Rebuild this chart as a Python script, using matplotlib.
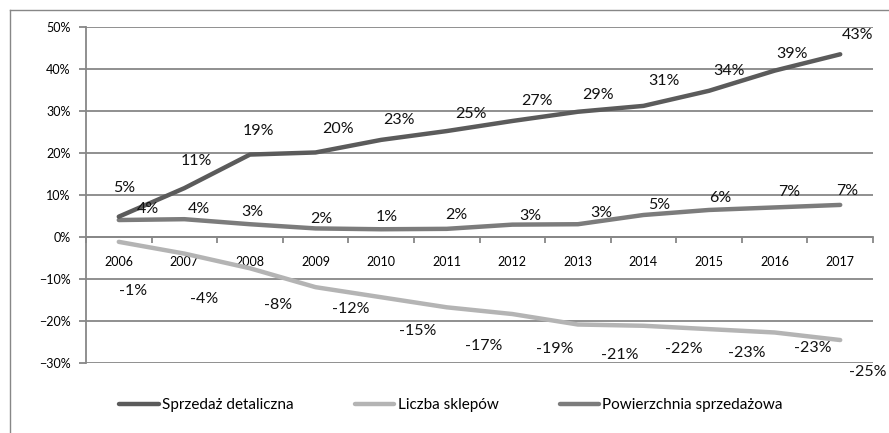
import numpy as np
import matplotlib
matplotlib.use("Agg")
import matplotlib.pyplot as plt
from matplotlib.lines import Line2D
from matplotlib.ticker import FixedLocator, PercentFormatter

plt.rcParams['font.family'] = ['Lato', 'DejaVu Sans']

years = ['2006', '2007', '2008', '2009', '2010', '2011',
         '2012', '2013', '2014', '2015', '2016', '2017']

# values (%)
sales = [4.8, 11.6, 19.6, 20.1, 23.1, 25.2, 27.6, 29.8, 31.2, 34.8, 39.6, 43.5]
shops = [-1.2, -4.0, -7.5, -12.0, -14.4, -16.8, -18.4, -20.9, -21.2, -22.0, -22.8, -24.6]
area = [4.0, 4.2, 3.0, 2.0, 1.8, 1.9, 2.9, 3.0, 5.2, 6.4, 7.0, 7.6]

# data labels as printed on the chart
sales_labels = [5, 11, 19, 20, 23, 25, 27, 29, 31, 34, 39, 43]
shops_labels = [-1, -4, -8, -12, -15, -17, -19, -21, -22, -23, -23, -25]
area_labels = [4, 4, 3, 2, 1, 2, 3, 3, 5, 6, 7, 7]

# label offsets from the point, in pixels (x right, y down)
sales_off = [(5, -29), (12, -27), (8, -24), (22, -23), (18, -20), (24, -17),
             (25, -20), (20, -17), (20, -25), (20, -20), (17, -17), (17, -19)]
shops_off = [(14, 49), (20, 45), (28, 37), (35, 22), (37, 34), (37, 39),
             (42, 35), (42, 30), (40, 23), (38, 24), (38, 16), (28, 32)]
area_off = [(29, -11), (15, -10), (2, -12), (6, -9), (6, -12), (10, -14),
            (18, -9), (23, -11), (16, -10), (11, -12), (15, -15), (7, -14)]

c_sales = '#5b5b5b'
c_shops = '#b4b4b4'
c_area = '#7c7c7c'
grid_c = '#878787'

fig = plt.figure(figsize=(8.89, 4.33), dpi=100)
ax = fig.add_axes([86 / 889, 1 - 362.7 / 433, (873 - 86) / 889, (362.7 - 27) / 433])

x = np.arange(len(years))
lw = 3.2
ax.plot(x, shops, color=c_shops, lw=lw, solid_capstyle='round', solid_joinstyle='round')
ax.plot(x, area, color=c_area, lw=lw, solid_capstyle='round', solid_joinstyle='round')
ax.plot(x, sales, color=c_sales, lw=lw, solid_capstyle='round', solid_joinstyle='round')

for vals, labs, offs in [(sales, sales_labels, sales_off),
                         (area, area_labels, area_off),
                         (shops, shops_labels, shops_off)]:
    for xi, v, lab, (dx, dy) in zip(x, vals, labs, offs):
        ax.annotate(f'{lab}%', (xi, v), xytext=(dx, -dy), textcoords='offset pixels',
                    ha='center', va='center', fontsize=11.5, color='#111111',
                    annotation_clip=False)

ax.set_xlim(-0.5, len(years) - 0.5)
ax.set_ylim(-30, 50)
ax.set_yticks(np.arange(-30, 51, 10))
ax.yaxis.set_major_formatter(PercentFormatter(decimals=0))
ax.yaxis.grid(True, color=grid_c, lw=1.3)
ax.set_axisbelow(True)

ax.set_xticks(x)
ax.set_xticklabels(years)
ax.xaxis.set_minor_locator(FixedLocator(np.arange(-0.5, len(years), 1.0)))
ax.tick_params(axis='x', which='major', length=0, pad=14, labelsize=9)
ax.tick_params(axis='x', which='minor', length=4, width=1.3, color=grid_c, direction='out')
ax.tick_params(axis='y', length=5, width=1.3, color=grid_c, labelsize=9, pad=6)

for s in ['top', 'right']:
    ax.spines[s].set_visible(False)
ax.spines['bottom'].set_position(('data', 0))
ax.spines['bottom'].set_color(grid_c)
ax.spines['bottom'].set_linewidth(1.3)
ax.spines['left'].set_color(grid_c)
ax.spines['left'].set_linewidth(1.3)

# outer chart border (top and left visible)
fig.add_artist(Line2D([10 / 889, 1.01], [1 - 10 / 433, 1 - 10 / 433],
                      transform=fig.transFigure, color=grid_c, lw=1.0))
fig.add_artist(Line2D([10 / 889, 10 / 889], [1 - 10 / 433, -0.01],
                      transform=fig.transFigure, color=grid_c, lw=1.0))

handles = [Line2D([], [], color=c_sales, lw=lw, solid_capstyle='round'),
           Line2D([], [], color=c_shops, lw=lw, solid_capstyle='round'),
           Line2D([], [], color=c_area, lw=lw, solid_capstyle='round')]
fig.legend(handles, ['Sprzedaż detaliczna', 'Liczba sklepów', 'Powierzchnia sprzedażowa'],
           loc='center', bbox_to_anchor=(451 / 889, 1 - 405.5 / 433), ncol=3,
           frameon=False, fontsize=11, handlelength=2.6, handletextpad=0.2,
           columnspacing=4.0)

fig.savefig('out.png', dpi=100)
